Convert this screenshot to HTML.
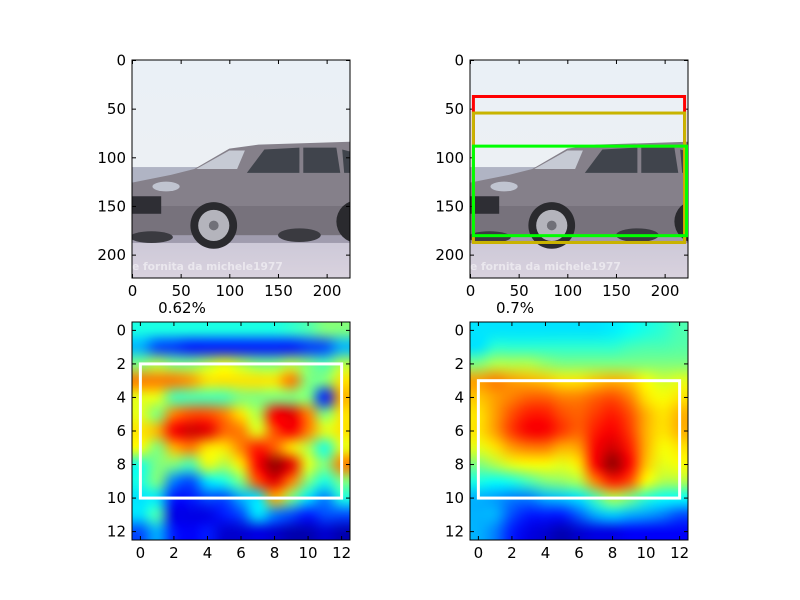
<!DOCTYPE html>
<html><head><meta charset="utf-8"><style>
html,body{margin:0;padding:0;background:#fff;width:800px;height:600px;overflow:hidden}
svg text{font-family:"DejaVu Sans","Liberation Sans",sans-serif;font-size:15px;fill:#000}
canvas{position:absolute}
</style></head><body>
<svg id="fig" width="800" height="600" style="position:absolute;left:0;top:0"></svg>
<canvas id="hm1" width="218" height="218" style="left:132px;top:322px"></canvas>
<canvas id="hm2" width="218" height="218" style="left:470px;top:322px"></canvas>
<svg id="ov" width="800" height="600" style="position:absolute;left:0;top:0"></svg>
<script>
const imgTicks=[0,50,100,150,200];
const hmTicks=[0,2,4,6,8,10,12];
const titles=["0.62%","0.7%"];
const boxRed=[3,37,220,187];
const boxYellow=[3,54,220,187];
const boxGreen=[3,88,222,180];
const hmBox1=[0,2,12,10];
const hmBox2=[0,3,12,10];
const heat1=[
[.4,.4,.4,.4,.4,.4,.4,.4,.4,.42,.45,.5,.5],
[.3,.2,.18,.15,.15,.15,.15,.15,.15,.15,.18,.2,.3],
[.5,.55,.5,.5,.55,.6,.55,.5,.5,.55,.5,.45,.55],
[.75,.75,.75,.72,.65,.65,.65,.65,.65,.75,.5,.5,.65],
[.6,.6,.45,.45,.45,.45,.5,.5,.5,.5,.5,.15,.7],
[.6,.5,.75,.8,.8,.75,.65,.55,.88,.9,.75,.5,.65],
[.65,.7,.88,.92,.9,.78,.75,.6,.8,.88,.75,.6,.65],
[.62,.5,.7,.75,.65,.65,.75,.85,.78,.65,.55,.4,.6],
[.4,.5,.5,.45,.6,.55,.65,.88,.98,.9,.6,.5,.75],
[.4,.5,.25,.2,.35,.4,.5,.8,.9,.75,.5,.4,.5],
[.35,.35,.15,.15,.2,.2,.3,.35,.7,.5,.35,.25,.4],
[.35,.45,.1,.1,.1,.15,.2,.35,.25,.2,.15,.2,.2],
[.2,.3,.15,.12,.15,.08,.08,.1,.08,.05,.05,.08,.05]];
const heat2=[
[.35,.35,.35,.35,.35,.35,.35,.35,.36,.38,.4,.42,.45],
[.35,.42,.42,.42,.42,.42,.42,.42,.42,.44,.45,.45,.46],
[.5,.55,.55,.55,.52,.5,.5,.5,.5,.5,.5,.5,.5],
[.72,.75,.72,.7,.68,.65,.65,.68,.7,.68,.62,.58,.6],
[.68,.72,.75,.78,.78,.75,.75,.78,.8,.75,.65,.62,.65],
[.65,.72,.8,.85,.85,.8,.78,.82,.85,.8,.7,.65,.7],
[.65,.72,.82,.88,.88,.82,.78,.85,.88,.82,.7,.65,.7],
[.6,.65,.72,.75,.75,.7,.72,.88,.92,.85,.7,.62,.65],
[.5,.55,.6,.62,.62,.6,.65,.88,.98,.88,.68,.6,.62],
[.4,.38,.4,.45,.5,.52,.55,.75,.85,.8,.62,.55,.55],
[.3,.28,.25,.25,.3,.32,.35,.45,.55,.5,.42,.38,.38],
[.3,.3,.2,.15,.15,.15,.22,.3,.33,.3,.28,.25,.2],
[.3,.25,.15,.1,.08,.05,.08,.1,.1,.12,.12,.12,.12]];

const NS="http://www.w3.org/2000/svg";
function mk(p,t,a){const e=document.createElementNS(NS,t);for(const k in a)e.setAttribute(k,a[k]);p.appendChild(e);return e;}
const fig=document.getElementById('fig'),ov=document.getElementById('ov');
const S=218;
function ix(v,x0){return x0+(v+0.5)*S/224;}
function iy(v,y0){return y0+(v+0.5)*S/224;}
function hx(v,x0){return x0+(v+0.5)*S/13;}
function hy(v,y0){return y0+(v+0.5)*S/13;}

function carScene(x0,y0,id){
  const outer=mk(fig,'g',{transform:`translate(${x0},${y0}) scale(${S/224})`});
  const d=mk(outer,'defs',{});
  const cp=mk(d,'clipPath',{id:'clip'+id});mk(cp,'rect',{x:0,y:0,width:224,height:224});
  const lg=mk(d,'linearGradient',{id:'sky'+id,x1:0,y1:0,x2:0,y2:1});
  mk(lg,'stop',{offset:0,'stop-color':'#eaf0f6'});mk(lg,'stop',{offset:1,'stop-color':'#eef0f2'});
  const lg2=mk(d,'linearGradient',{id:'gr'+id,x1:0,y1:0,x2:0,y2:1});
  mk(lg2,'stop',{offset:0,'stop-color':'#c9c6d6'});mk(lg2,'stop',{offset:1,'stop-color':'#d9d2de'});
  const g=mk(outer,'g',{'clip-path':`url(#clip${id})`});
  
  
  mk(g,'rect',{x:0,y:0,width:224,height:224,fill:`url(#sky${id})`});
  mk(g,'rect',{x:0,y:110,width:224,height:16,fill:'#b0b4c4'});
  mk(g,'rect',{x:0,y:176,width:224,height:48,fill:`url(#gr${id})`});
  mk(g,'rect',{x:0,y:176,width:224,height:12,fill:'#a09cae'});
  mk(g,'polygon',{points:'0,126 40,118 64,112 100,91 130,87 224,84 224,180 0,180',fill:'#85808a'});
  mk(g,'polygon',{points:'0,150 224,150 224,180 0,180',fill:'#77727c'});
  mk(g,'polygon',{points:'66,112 100,93 116,93 108,112',fill:'#c6cad4'});
  mk(g,'polygon',{points:'118,116 136,92 172,90 172,116',fill:'#40444c'});
  mk(g,'polygon',{points:'176,90 210,90 214,116 176,116',fill:'#40444c'});
  mk(g,'polygon',{points:'216,92 224,94 224,116 218,116',fill:'#40444c'});
  mk(g,'rect',{x:0,y:140,width:30,height:18,fill:'#2e2e34'});
  mk(g,'ellipse',{cx:35,cy:130,rx:14,ry:5,fill:'#c0c4d0'});
  mk(g,'circle',{cx:84,cy:170,r:24,fill:'#2a2a2e'});
  mk(g,'circle',{cx:84,cy:170,r:16,fill:'#b4b4bc'});
  mk(g,'circle',{cx:84,cy:170,r:5,fill:'#707078'});
  mk(g,'circle',{cx:232,cy:166,r:22,fill:'#2a2a2e'});
  mk(g,'ellipse',{cx:172,cy:180,rx:22,ry:7,fill:'#3a3a40'});
  mk(g,'ellipse',{cx:20,cy:182,rx:22,ry:6,fill:'#3a3a40'});
  const t=mk(g,'text',{x:0,y:216,style:'font-size:11px;font-weight:bold;fill:rgba(255,255,255,0.5)'});
  t.textContent='e fornita da michele1977';
  
  
}
function jet(v){
  v=Math.max(0,Math.min(1,v));
  const r=Math.max(0,Math.min(1,1.5-Math.abs(4*v-3)));
  const g=Math.max(0,Math.min(1,1.5-Math.abs(4*v-2)));
  const b=Math.max(0,Math.min(1,1.5-Math.abs(4*v-1)));
  return [r*255|0,g*255|0,b*255|0];
}
function drawHeat(id,data){
  const small=document.createElement('canvas');small.width=13;small.height=13;
  const sc=small.getContext('2d');const im=sc.createImageData(13,13);
  data.forEach((row,r)=>row.forEach((v,c)=>{const [R,G,B]=jet(v);const i=(r*13+c)*4;im.data[i]=R;im.data[i+1]=G;im.data[i+2]=B;im.data[i+3]=255;}));
  sc.putImageData(im,0,0);
  const ctx=document.getElementById(id).getContext('2d');
  ctx.imageSmoothingEnabled=true;ctx.imageSmoothingQuality='high';
  ctx.drawImage(small,0,0,S,S);
}
function axes(x0,y0,ticks,fx,fy,name){
  const frame=mk(ov,'rect',{x:x0,y:y0,width:S,height:S,fill:'none',stroke:'#000','stroke-width':1});
  
  
  ticks.forEach(v=>{
    const px=fx(v,x0),py=fy(v,y0);
    mk(ov,'line',{x1:px,y1:y0+S,x2:px,y2:y0+S-4,stroke:'#000'});
    mk(ov,'line',{x1:px,y1:y0,x2:px,y2:y0+4,stroke:'#000'});
    mk(ov,'line',{x1:x0,y1:py,x2:x0+4,y2:py,stroke:'#000'});
    mk(ov,'line',{x1:x0+S,y1:py,x2:x0+S-4,y2:py,stroke:'#000'});
    const tx=mk(ov,'text',{x:px,y:y0+S+18,'text-anchor':'middle'});tx.textContent=v;
    
    
    const ty=mk(ov,'text',{x:x0-6,y:py+5,'text-anchor':'end'});ty.textContent=v;
    
    
  });
}
function box(b,fx,fy,x0,y0,color,w,name){
  const r=mk(ov,'rect',{x:fx(b[0],x0),y:fy(b[1],y0),width:fx(b[2],x0)-fx(b[0],x0),height:fy(b[3],y0)-fy(b[1],y0),fill:'none',stroke:color,'stroke-width':w});
  
  
}
carScene(132,60,'a');carScene(470,60,'b');
drawHeat('hm1',heat1);drawHeat('hm2',heat2);
axes(132,60,imgTicks,ix,iy,'photo-left');
axes(470,60,imgTicks,ix,iy,'photo-right');
axes(132,322,hmTicks,hx,hy,'heatmap-left');
axes(470,322,hmTicks,hx,hy,'heatmap-right');
box(boxRed,ix,iy,470,60,'#ff0000',3,'box-red');
box(boxYellow,ix,iy,470,60,'#c8b400',3,'box-yellow');
box(boxGreen,ix,iy,470,60,'#00ff00',3,'box-green');
box(hmBox1,hx,hy,132,322,'#ffffff',3,'heatmap-left-box');
box(hmBox2,hx,hy,470,322,'#ffffff',3,'heatmap-right-box');
[[182,titles[0]],[515,titles[1]]].forEach(([x,t],i)=>{
  const e=mk(ov,'text',{x:x,y:313,'text-anchor':'middle'});e.textContent=t;
  
  
});
</script>
</body></html>
